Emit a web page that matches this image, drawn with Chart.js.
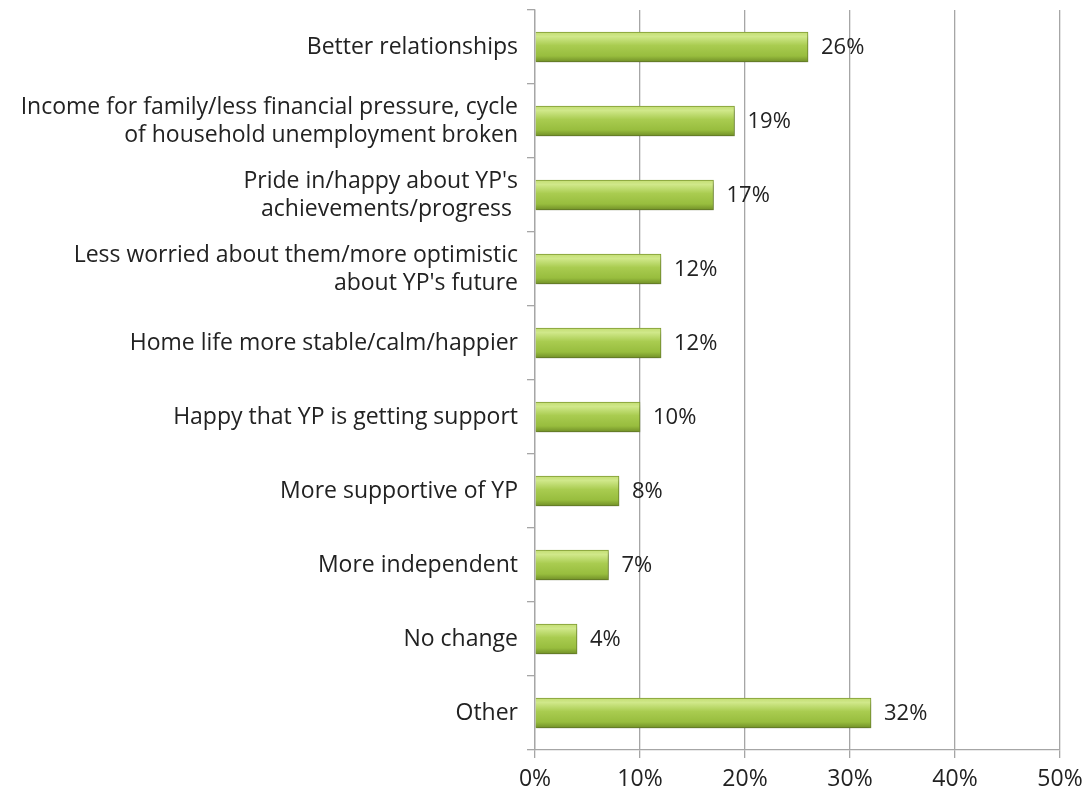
<!DOCTYPE html>
<html>
  <head>
    <script src="https://cdn.jsdelivr.net/npm/chart.js@4"></script>
    <style>
      html, body { margin: 0; padding: 0; background: #fff; }
      #wrap { width: 1092px; height: 796px; }
    </style>
  </head>
  <body>
    <div id="wrap"><canvas id="canvas"></canvas></div>
    <script>
      const categories = [
        'Better relationships',
        ['Income for family/less financial pressure, cycle', 'of household unemployment broken'],
        ['Pride in/happy about YP\'s', 'achievements/progress '],
        ['Less worried about them/more optimistic', 'about YP\'s future'],
        'Home life more stable/calm/happier',
        'Happy that YP is getting support',
        'More supportive of YP',
        'More independent',
        'No change',
        'Other',
      ];
      const percentages = [26, 19, 17, 12, 12, 10, 8, 7, 4, 32];
      const axisTicks = [0, 10, 20, 30, 40, 50];

      const FONT = '"Open Sans", Lato, sans-serif';
      const BAR_H = 30;

      // vertical gradient per bar, lighter on top like a rounded cylinder
      function barFill(ctx) {
        const chart = ctx.chart;
        const y = chart.scales.y;
        if (!y || ctx.dataIndex === undefined) return '#a4c84a';
        const cy = y.getPixelForValue(ctx.dataIndex);
        if (!Number.isFinite(cy)) return '#a4c84a';
        const g = chart.ctx.createLinearGradient(0, cy - BAR_H / 2, 0, cy + BAR_H / 2);
        g.addColorStop(0, '#c3dd72');
        g.addColorStop(0.15, '#d0e88a');
        g.addColorStop(0.45, '#a9cc50');
        g.addColorStop(0.8, '#98bd3e');
        g.addColorStop(1, '#718f27');
        return g;
      }

      const valueLabels = {
        id: 'valueLabels',
        afterDatasetsDraw(chart) {
          const { ctx } = chart;
          const meta = chart.getDatasetMeta(0);
          ctx.save();
          ctx.font = '22px ' + FONT;
          ctx.fillStyle = '#222';
          ctx.textBaseline = 'middle';
          ctx.textAlign = 'left';
          meta.data.forEach((bar, i) => {
            ctx.fillText(percentages[i] + '%', bar.x + 13, bar.y + 1);
          });
          ctx.restore();
        },
      };

      // soft drop shadow under each bar
      const barShadow = {
        id: 'barShadow',
        beforeDatasetsDraw(chart) {
          chart.ctx.save();
          chart.ctx.shadowColor = 'rgba(0,0,0,0.28)';
          chart.ctx.shadowBlur = 4;
          chart.ctx.shadowOffsetX = 1;
          chart.ctx.shadowOffsetY = 3;
        },
        afterDatasetsDraw(chart) {
          chart.ctx.restore();
        },
      };

      new Chart(document.getElementById('canvas'), {
        type: 'bar',
        data: {
          labels: categories,
          datasets: [
            {
              data: percentages,
              backgroundColor: barFill,
              borderColor: '#7f9c32',
              borderWidth: 1,
              barThickness: BAR_H,
            },
          ],
        },
        options: {
          indexAxis: 'y',
          responsive: true,
          maintainAspectRatio: false,
          animation: false,
          layout: { padding: { top: 10, right: 32, left: 0, bottom: 0 } },
          plugins: {
            legend: { display: false },
            tooltip: { enabled: false },
          },
          scales: {
            x: {
              min: 0,
              max: 50,
              afterBuildTicks(scale) {
                scale.ticks = axisTicks.map((v) => ({ value: v }));
              },
              afterFit(scale) {
                scale.height = 46;
              },
              ticks: {
                callback: (v) => v + '%',
                font: { family: FONT, size: 23 },
                color: '#222',
                padding: 8,
              },
              grid: {
                color: '#a6a6a6',
                lineWidth: 1.3,
                tickLength: 8,
              },
              border: { color: '#a6a6a6', width: 1.3 },
            },
            y: {
              afterFit(scale) {
                scale.width = 535;
                scale.paddingTop = 0;
                scale.paddingBottom = 0;
              },
              ticks: {
                font: { family: FONT, size: 23, lineHeight: 1.22 },
                color: '#222',
                padding: 9,
              },
              grid: {
                drawOnChartArea: false,
                color: '#a6a6a6',
                lineWidth: 1.3,
                tickLength: 8,
                offset: true,
              },
              border: { color: '#a6a6a6', width: 1.3 },
            },
          },
        },
        plugins: [barShadow, valueLabels],
      });
    </script>
  </body>
</html>
